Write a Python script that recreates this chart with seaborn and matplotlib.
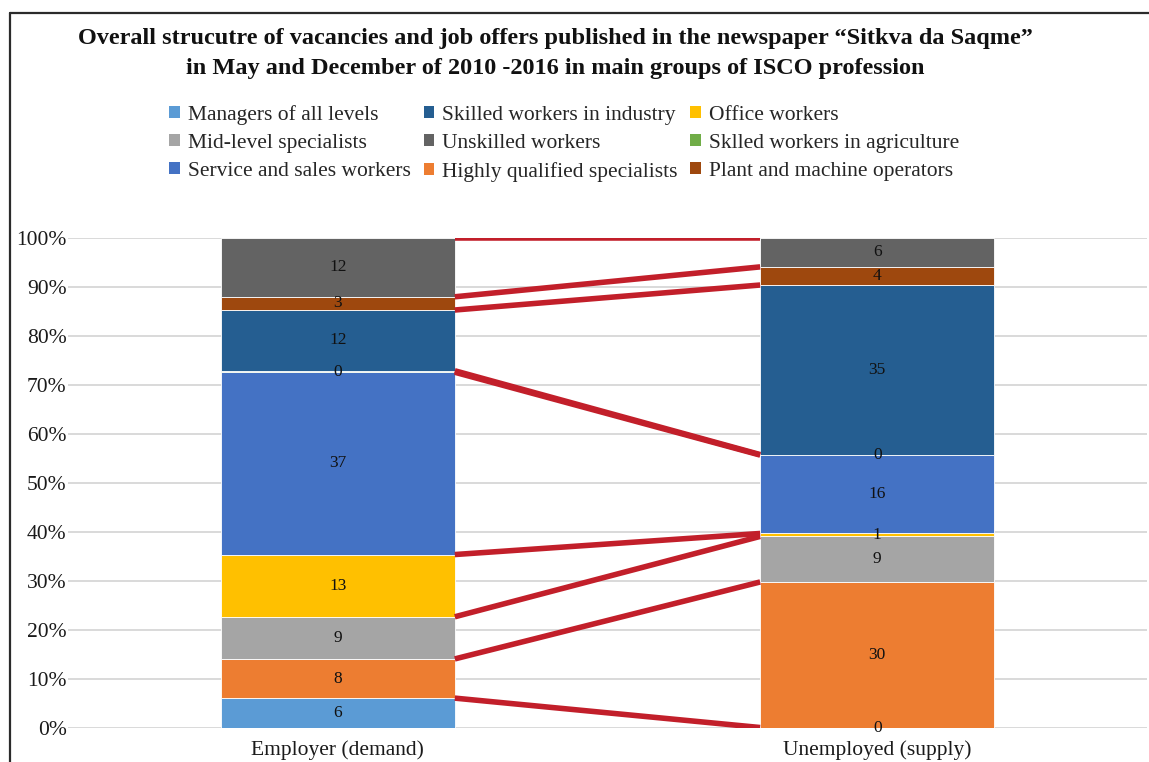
import numpy as np
import matplotlib
matplotlib.use("Agg")
import matplotlib.pyplot as plt
from matplotlib.lines import Line2D
from matplotlib.patches import Patch
import seaborn as sns

# data (percent of all vacancies / job seekers)
categories = ["Employer (demand)", "Unemployed (supply)"]
series_names = [
    "Managers of all levels",
    "Highly qualified specialists",
    "Mid-level specialists",
    "Office workers",
    "Service and sales workers",
    "Sklled workers in agriculture",
    "Skilled workers in industry",
    "Plant and machine operators",
    "Unskilled workers",
]
managers = [6.1, 0.1]
highly_qualified = [8.0, 29.7]
mid_level = [8.6, 9.3]
office = [12.7, 0.6]
service_sales = [37.2, 16.0]
agriculture = [0.3, 0.1]
industry = [12.4, 34.6]
plant_operators = [2.7, 3.7]
unskilled = [12.0, 5.9]

colors = ["#5B9BD5", "#ED7D31", "#A5A5A5", "#FFC000", "#4472C4",
          "#70AD47", "#255E91", "#9E480E", "#636363"]

values = [managers, highly_qualified, mid_level, office, service_sales,
          agriculture, industry, plant_operators, unskilled]

sns.set_theme(style="whitegrid")
plt.rcParams["font.family"] = ["Liberation Serif", "DejaVu Serif"]

fig = plt.figure(figsize=(11.49, 7.62), dpi=100)
ax = fig.add_axes([0.0592, 0.0446, 0.9390, 0.6431])

bar_w = 0.434
bottom = np.zeros(len(categories))
tops = []
for name, vals, col in zip(series_names, values, colors):
    sns.barplot(x=categories, y=vals, bottom=bottom, color=col, saturation=1,
                width=bar_w, errorbar=None, edgecolor="white", linewidth=0.6,
                ax=ax)
    cont = ax.containers[-1]
    ax.bar_label(cont, labels=[f"{round(v)}" for v in vals], label_type="center",
                 fontsize=12.5, color="#111111")
    bottom = bottom + np.array(vals)
    tops.append(bottom.copy())

# series lines between the bars
for t in tops:
    ax.plot([0 + bar_w / 2, 1 - bar_w / 2], t, color="#C21F2A", lw=4,
            solid_capstyle="butt", zorder=3)

ax.set_xlim(-0.5, 1.5)
ax.set_ylim(0, 100)
ax.set_yticks(np.arange(0, 101, 10))
ax.set_yticklabels([f"{v}%" for v in range(0, 101, 10)])
ax.tick_params(axis="y", labelsize=15.5, pad=1, colors="#1a1a1a", length=0)
ax.tick_params(axis="x", labelsize=15.5, pad=9, colors="#1a1a1a", length=0)
ax.grid(axis="y", color="#D9D9D9", lw=1.4)
ax.grid(axis="x", visible=False)
ax.set_axisbelow(True)
for s in ax.spines.values():
    s.set_visible(False)
ax.set_xlabel("")
ax.set_ylabel("")

# legend, laid out row-wise like the original
row_layout = [[0, 6, 3], [2, 8, 5], [4, 1, 7]]
col_major = [row_layout[r][c] for c in range(3) for r in range(3)]
handles = [Patch(facecolor=colors[i], edgecolor="none") for i in col_major]
labels = [series_names[i] for i in col_major]
fig.legend(handles, labels, ncol=3, loc="upper left",
           bbox_to_anchor=(0.140, 0.874), frameon=False, fontsize=15.5,
           handlelength=0.5, handleheight=0.5, handletextpad=0.35,
           columnspacing=0.6, labelspacing=0.42, borderaxespad=0)

fig.text(0.483, 0.930,
         "Overall strucutre of vacancies and job offers published in the newspaper \u201cSitkva da Saqme\u201d\n"
         "in May and December of 2010 -2016 in main groups of ISCO profession",
         ha="center", va="center", fontsize=17.5, fontweight="bold",
         color="#111111", linespacing=1.55)

# outer frame (left and top visible in the original crop)
fig.add_artist(Line2D([0.009, 0.009], [0, 0.983], color="#2b2b2b", lw=1.6,
                      transform=fig.transFigure))
fig.add_artist(Line2D([0.009, 1.0], [0.983, 0.983], color="#2b2b2b", lw=1.6,
                      transform=fig.transFigure))

fig.savefig("out.png", dpi=100)
